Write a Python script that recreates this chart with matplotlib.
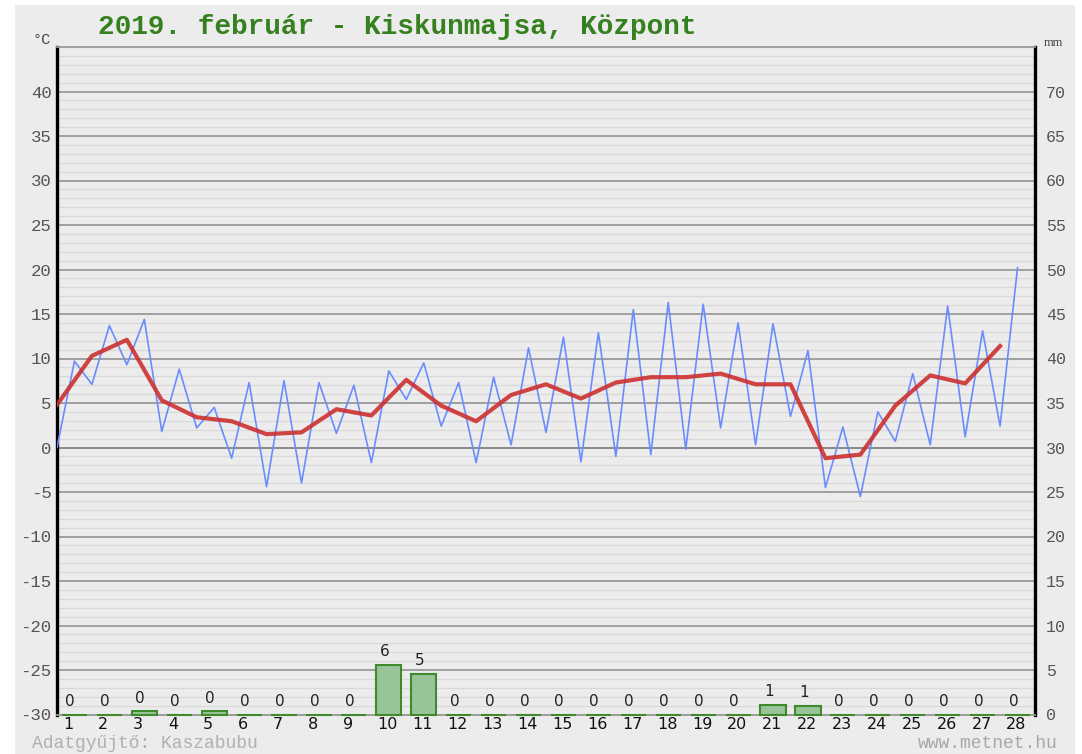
import matplotlib
matplotlib.use("Agg")
import matplotlib.pyplot as plt
from matplotlib.patches import Rectangle
from matplotlib.ticker import MultipleLocator
import numpy as np

plt.rcParams["axes.unicode_minus"] = False

# ---- data ----
days = list(range(1, 29))
tmin = [0, 7.1, 9.3, 1.8, 2.2, -1.2, -4.4, -4.0, 1.6, -1.7, 5.4, 2.4, -1.7, 0.3,
        1.7, -1.6, -1.0, -0.8, -0.2, 2.2, 0.3, 3.5, -4.5, -5.5, 0.7, 0.3, 1.2, 2.4]
tmax = [9.7, 13.7, 14.4, 8.8, 4.5, 7.3, 7.5, 7.3, 7.0, 8.6, 9.5, 7.3, 7.9, 11.2,
        12.4, 12.9, 15.5, 16.3, 16.1, 14.0, 13.9, 10.9, 2.3, 4.0, 8.3, 15.9, 13.1, 20.2]
tmean = [4.8, 10.3, 12.1, 5.3, 3.4, 2.95, 1.5, 1.7, 4.3, 3.6, 7.6, 4.7, 2.95, 5.9,
         7.1, 5.5, 7.3, 7.9, 7.9, 8.3, 7.1, 7.1, -1.2, -0.8, 4.7, 8.1, 7.2, 11.4]
precip = [0, 0, 0.35, 0, 0.35, 0, 0, 0, 0, 5.6, 4.6, 0, 0, 0,
          0, 0, 0, 0, 0, 0, 1.1, 0.95, 0, 0, 0, 0, 0, 0]
temp_ticks = list(range(-30, 45, 5))
mm_ticks = list(range(0, 75, 5))
title = "2019. február - Kiskunmajsa, Központ"

W, H = 1082, 754
fig = plt.figure(figsize=(W / 100, H / 100), dpi=100)
fig.patch.set_facecolor("white")
fig.patches.append(Rectangle((15 / W, 0), (1075 - 15) / W, (H - 5) / H,
                             transform=fig.transFigure, facecolor="#ececec",
                             edgecolor="none", zorder=-10))

ax = fig.add_axes([57 / W, 39.5 / H, (1035 - 57) / W, (714.5 - 47) / H])
ax.set_facecolor("#ececec")
ax.set_xlim(0, 28)
ax.set_ylim(-30, 45)

ax.yaxis.set_major_locator(MultipleLocator(5))
ax.yaxis.set_minor_locator(MultipleLocator(1))
ax.set_yticks(temp_ticks)
ax.grid(which="minor", axis="y", color="#d9d9d9", lw=0.9, zorder=0)
ax.grid(which="major", axis="y", color="#9a9a9a", lw=1.3, zorder=0.5)
ax.axhline(0, color="black", lw=1.4, zorder=1)
ax.tick_params(axis="y", which="both", length=0, pad=4, labelsize=12.5,
               labelcolor="#555555")
for lbl in ax.get_yticklabels():
    lbl.set_fontfamily("Liberation Mono")

d = np.array(days, dtype=float)
xs_blue = np.ravel(np.column_stack([d - 1, d - 0.5]))
ys_blue = np.ravel(np.column_stack([tmin, tmax]))
ax.plot(xs_blue, ys_blue, color="#6b8cff", lw=1.2, zorder=3)
ax.plot(d - 1, tmean, color="#cc3030", lw=3.0, alpha=0.9, zorder=4,
        solid_joinstyle="round")

for side in ("left", "right"):
    ax.spines[side].set_color("black")
    ax.spines[side].set_linewidth(2.4)
ax.spines["top"].set_color("#9a9a9a")
ax.spines["top"].set_linewidth(1.3)
ax.spines["bottom"].set_color("#9a9a9a")
ax.spines["bottom"].set_linewidth(1.3)

ax.set_xticks(d - 0.82)
ax.set_xticklabels([str(v) for v in days], ha="left")
ax.tick_params(axis="x", length=0, pad=2, labelsize=11.5, labelcolor="#111111")

ax2 = ax.twinx()
ax2.set_ylim(0, 75)
ax2.set_xlim(0, 28)
ax2.set_yticks(mm_ticks)
ax2.tick_params(axis="y", length=0, pad=8, labelsize=12, labelcolor="#555555")
for lbl in ax2.get_yticklabels():
    lbl.set_fontfamily("Liberation Mono")
for s in ax2.spines.values():
    s.set_visible(False)
bars = ax2.bar(d - 0.5, precip, width=0.72, color="#98c49a",
               edgecolor="#3f8a2a", linewidth=1.5, zorder=2)
for b in bars:
    b.set_clip_on(False)
for x, v in zip(d - 0.5, precip):
    ax2.annotate("%.0f" % v, (x, v), xytext=(-3, 4), textcoords="offset points",
                 ha="center", va="bottom", fontsize=11, color="#222222")

fig.text(98 / W, 1 - 27 / H, title, fontfamily="Liberation Mono",
         fontweight="bold", fontsize=20, color="#35801f", ha="left", va="center")
fig.text(42 / W, 1 - 40 / H, "°C", fontfamily="Liberation Mono", fontsize=11,
         color="#444444", ha="center", va="center")
fig.text(1053 / W, 1 - 43 / H, "mm", fontfamily="Liberation Serif", fontsize=9,
         color="#444444", ha="center", va="center")
fig.text(32 / W, 1 - 744 / H, "Adatgyűjtő: Kaszabubu",
         fontfamily="Liberation Mono", fontsize=13, color="#b0b0b0",
         ha="left", va="center")
fig.text(1058 / W, 1 - 744 / H, "www.metnet.hu", fontfamily="Liberation Mono",
         fontsize=13, color="#a8a8a8", ha="right", va="center")

fig.savefig("out.png", dpi=100, facecolor=fig.get_facecolor())
